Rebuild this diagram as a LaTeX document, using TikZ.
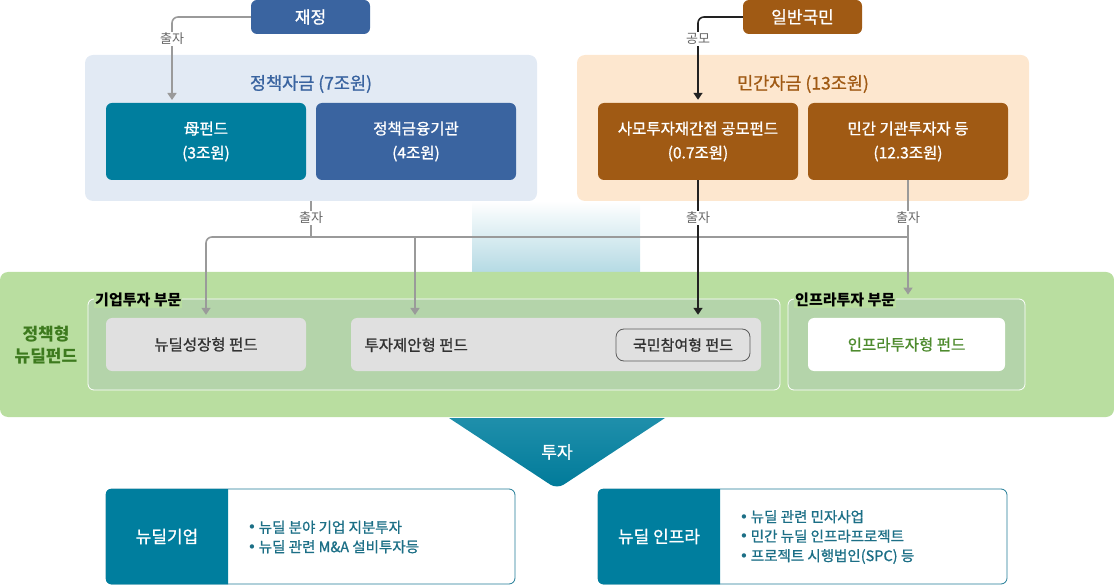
\documentclass[tikz,border=0pt]{standalone}
\usepackage{fontspec}
\setmainfont{Noto Sans CJK KR}
\newfontfamily\medfont{Noto Sans CJK KR}[FakeBold=1]
\newfontfamily\symfont{DejaVu Sans}
\newcommand\dotmark{{\symfont\fontsize{15}{15}\selectfont•}\,}
\usetikzlibrary{arrows.meta}

\definecolor{policyblue}{HTML}{3A64A0}
\definecolor{privbrown}{HTML}{A05A14}
\definecolor{fundteal}{HTML}{007E9E}
\definecolor{policybg}{HTML}{E2EAF4}
\definecolor{privbg}{HTML}{FDE7CF}
\definecolor{dealgreen}{HTML}{B9DEA0}
\definecolor{secgreen}{HTML}{B4D4AA}
\definecolor{fundgray}{HTML}{E0E0E0}
\definecolor{titlegreen}{HTML}{3D7A1E}
\definecolor{infragreen}{HTML}{4E8B2E}
\definecolor{bullteal}{HTML}{1C6F86}
\definecolor{bordteal}{HTML}{1F7A95}
\definecolor{linegray}{HTML}{9A9A9A}
\definecolor{lineblack}{HTML}{222222}
\definecolor{bandblue}{HTML}{B5DAE4}
\definecolor{funneltop}{HTML}{1F8FAB}
\definecolor{funnelbot}{HTML}{007A99}
\definecolor{textdark}{HTML}{333333}
\definecolor{labelgray}{HTML}{666666}

\begin{document}
\begin{tikzpicture}[x=1pt, y=-1pt, >={Triangle[length=7pt,width=9pt]},
    every node/.style={font=\medfont\fontsize{15.5}{18}\selectfont},
    srcbox/.style={rounded corners=6pt, minimum width=119pt, minimum height=34pt, text=white, font=\medfont\fontsize{17}{20}\selectfont},
    panel/.style={rounded corners=8pt, minimum width=452pt, minimum height=146pt},
    ptitle/.style={font=\medfont\fontsize{17.5}{20}\selectfont},
    fundbox/.style={rounded corners=6pt, minimum width=200pt, minimum height=77pt, text=white, align=center, font=\medfont\fontsize{15.5}{24}\selectfont},
    section/.style={draw=white, line width=0.8pt, fill=secgreen, rounded corners=6pt, minimum height=91pt},
    sectitle/.style={fill=dealgreen, inner sep=1pt, anchor=west, font=\bfseries\fontsize{15}{18}\selectfont},
    subfund/.style={fill=fundgray, rounded corners=6pt, minimum height=53pt, text=textdark},
    target/.style={draw=bordteal, line width=0.8pt, rounded corners=6pt, minimum width=409pt, minimum height=95pt},
    targetname/.style={text=white, font=\medfont\fontsize{17}{20}\selectfont},
    bullets/.style={anchor=west, align=left, text=bullteal, font=\medfont\fontsize{14.5}{19.5}\selectfont},
    link/.style={draw=linegray, line width=1.6pt},
    linkblack/.style={draw=lineblack, line width=1.6pt},
    lbl/.style={fill=white, inner sep=1.5pt, text=labelgray, font=\fontsize{13}{15}\selectfont}]

    \useasboundingbox (0,0) rectangle (1114,585);

    % --- 1. 배경 띠 ---
    \shade[top color=white, bottom color=bandblue] (472,201) rectangle (640,272);

    % --- 2. 자금원 (정책자금 / 민간자금) ---
    \node[srcbox, fill=policyblue] (fiscal) at (310.5,17) {재정};
    \node[srcbox, fill=privbrown] (public) at (802.5,17) {일반국민};

    \node[panel, fill=policybg] (policy) at (311,128) {};
    \node[ptitle, text=policyblue] (policytitle) at (311,84) {정책자금 (7조원)};
    \node[fundbox, fill=fundteal] (mother) at (206,141.5) {母펀드\\(3조원)};
    \node[fundbox, fill=policyblue] (pfi) at (416,141.5) {정책금융기관\\(4조원)};

    \node[panel, fill=privbg] (private) at (803,128) {};
    \node[ptitle, text=privbrown] (privtitle) at (803,84) {민간자금 (13조원)};
    \node[fundbox, fill=privbrown] (pefund) at (698,141.5) {사모투자재간접 공모펀드\\(0.7조원)};
    \node[fundbox, fill=privbrown] (inst) at (908,141.5) {민간 기관투자자 등\\(12.3조원)};

    % --- 3. 정책형 뉴딜펀드 ---
    \node[fill=dealgreen, rounded corners=8pt, minimum width=1114pt, minimum height=145pt] (newdeal) at (557,344.5) {};
    \node[text=titlegreen, align=center, font=\bfseries\fontsize{17}{22}\selectfont] (newdealtitle) at (46,345) {정책형\\뉴딜펀드};

    \node[section, minimum width=692pt] (corpsec) at (434,344.5) {};
    \node[section, minimum width=237pt] (infrasec) at (906.5,344.5) {};
    \node[sectitle] (corptitle) at (94,300) {기업투자 부문};
    \node[sectitle] (infratitle) at (794,300) {인프라투자 부문};

    \node[subfund, minimum width=200pt] (growth) at (206,344.5) {뉴딜성장형 펀드};
    \node[subfund, minimum width=410pt] (proposal) at (556,344.5) {};
    \node[anchor=west, text=textdark] (proposaltxt) at (361,345) {투자제안형 펀드};
    \node[draw=textdark!80, line width=0.8pt, rounded corners=8pt, minimum width=134pt, minimum height=32pt, text=textdark, font=\medfont\fontsize{15}{18}\selectfont] (citizen) at (683,345) {국민참여형 펀드};
    \node[subfund, fill=white, minimum width=197pt, text=infragreen] (infrafund) at (906.5,344.5) {인프라투자형 펀드};

    % --- 4. 연결선 ---
    \coordinate (motherin) at (172,100);   % 母펀드 위 화살표 끝
    \coordinate (split) at (311,237);      % 출자 분기점
    \coordinate (propin) at (415,315);     % 투자제안형 펀드 화살표 끝

    \draw[link, ->, rounded corners=6pt] (fiscal.west) -| (motherin);
    \node[lbl] at (172,39) {출자};
    \draw[linkblack, ->, rounded corners=6pt, shorten >=3pt] (public.west) -| (pefund.north);
    \node[lbl] at (698,39) {공모};

    \draw[link] (policy.south) -- (split);
    \draw[link, ->, rounded corners=6pt, shorten >=3pt] (split) -| (growth.north);
    \draw[link, ->] (split -| propin) -- (propin);
    \draw[link] (split) -- (split -| inst.south);
    \draw[link, ->, shorten >=4pt] (inst.south) -- (inst.south |- infrasec.north);
    \draw[linkblack, ->, shorten >=3pt] (pefund.south) -- (pefund.south |- proposal.north);
    \node[lbl] at (311,218) {출자};
    \node[lbl] at (698,218) {출자};
    \node[lbl] at (908,218) {출자};

    % --- 5. 투자 ---
    \shade[top color=funneltop, bottom color=funnelbot] (449,418) -- (665,418) [rounded corners=8pt] -- (557,489) [sharp corners] -- cycle;
    \node[text=white, font=\medfont\fontsize{17}{20}\selectfont] (invest) at (557,452) {투자};

    % --- 6. 투자 대상 ---
    \node[target] (corp) at (310.5,536.5) {};
    \begin{scope}
      \clip (106,489) rectangle (228,585);
      \fill[fundteal, rounded corners=6pt] (corp.north west) rectangle (corp.south east);
    \end{scope}
    \node[targetname] (corpname) at (167,536.5) {뉴딜기업};
    \node[bullets] (corplist) at (244,537) {\dotmark 뉴딜 분야 기업 지분투자\\\dotmark 뉴딜 관련 M\&A 설비투자등};

    \node[target] (infra) at (802.5,536.5) {};
    \begin{scope}
      \clip (598,489) rectangle (720,585);
      \fill[fundteal, rounded corners=6pt] (infra.north west) rectangle (infra.south east);
    \end{scope}
    \node[targetname] (infraname) at (659,536.5) {뉴딜 인프라};
    \node[bullets] (infralist) at (736,537) {\dotmark 뉴딜 관련 민자사업\\\dotmark 민간 뉴딜 인프라프로젝트\\\dotmark 프로젝트 시행법인(SPC) 등};

\end{tikzpicture}
\end{document}
